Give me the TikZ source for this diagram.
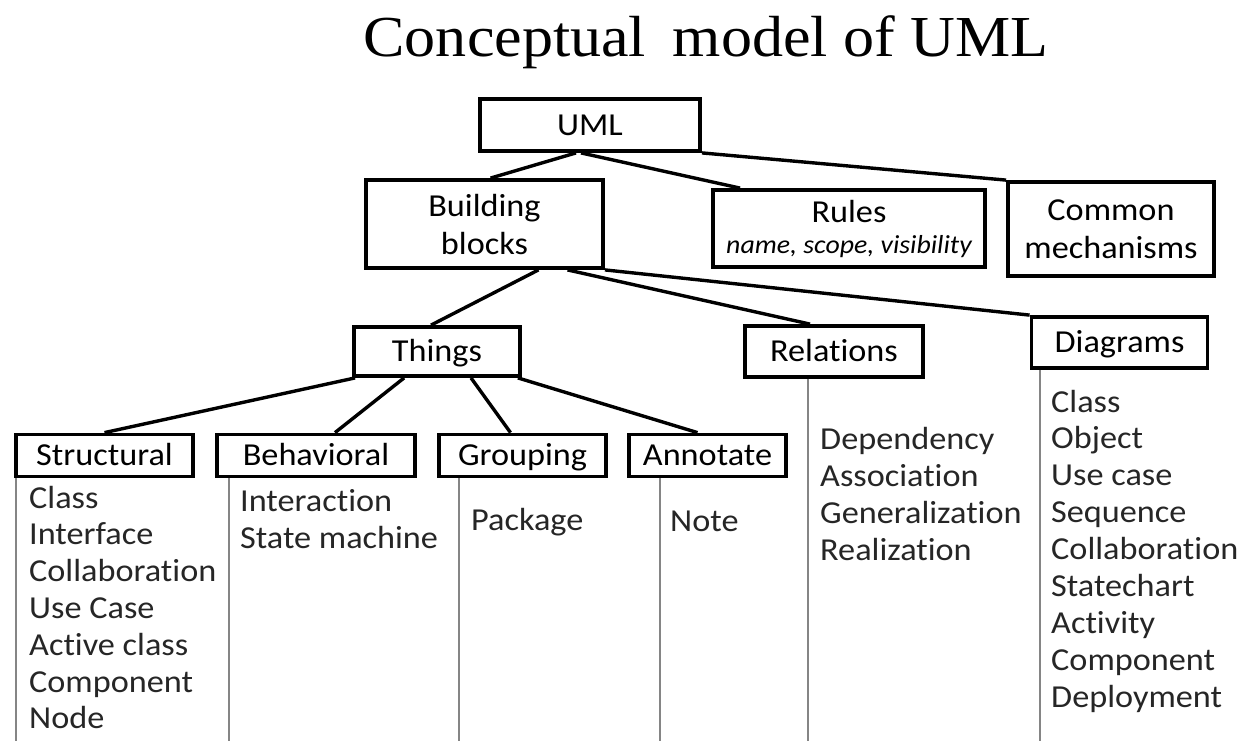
\documentclass[tikz,border=0pt]{standalone}
\usepackage{fontspec}
\setmainfont{Carlito}[FakeStretch=1.07,Ligatures=NoCommon]
\newfontfamily\titlefont{Liberation Serif}[FakeStretch=1.07]
\usetikzlibrary{calc}

\begin{document}
\begin{tikzpicture}[x=1pt,y=-1pt,
  frame/.style={draw=black,line width=3.8pt,rectangle,inner sep=0pt,align=center,
    font=\fontsize{32}{38}\selectfont},
  box/.style={frame,text height=20.5pt,text depth=0pt},
  link/.style={draw=black,line width=3.4pt},
  stem/.style={draw=black!48,line width=2pt},
  item/.style={anchor=base west,inner sep=0pt,font=\fontsize{32}{37}\selectfont,text=black!85}]

% page
\fill[white] (0,0) rectangle (1253,740);
\useasboundingbox (0,0) rectangle (1253,740);
\coordinate (floor) at (0,742);

% heading
\node[anchor=base,inner sep=0pt,font=\titlefont\fontsize{58}{66}\selectfont]
  (heading) at (706,56) {Conceptual\hspace{11pt} model of UML};

% top level
\node[box,minimum width=220,minimum height=52] (uml) at (590,125) {UML};
\node[frame,minimum width=237,minimum height=88] (blocks) at (484.5,224) {Building\\blocks};
\node[frame,minimum width=272,minimum height=77] (rules) at (849,228.5)
  {Rules\\[-7pt]{\itshape\fontsize{26}{30}\selectfont name, scope, visibility}};
\node[frame,minimum width=206,minimum height=94] (common) at (1111,229) {Common\\mechanisms};

% second level
\node[box,minimum width=166,minimum height=49] (things) at (437,351.5) {Things};
\node[box,minimum width=178,minimum height=51] (relations) at (834,351.5) {Relations};
\node[box,minimum width=176,minimum height=51] (diagrams) at (1119.5,342.5) {Diagrams};

% kinds of things
\node[box,minimum width=177,minimum height=42] (structural) at (104.5,455.5) {Structural};
\node[box,minimum width=198,minimum height=42] (behavioral) at (316,455.5) {Behavioral};
\node[box,minimum width=167,minimum height=42] (grouping) at (522.5,455.5) {Grouping};
\node[box,minimum width=157,minimum height=42] (annotate) at (707.5,455.5) {Annotate};

% tree connectors
\draw[link] ([xshift=-14]uml.south) -- ([xshift=6]blocks.north);
\draw[link] ([xshift=-9]uml.south) -- ([xshift=29]rules.north west);
\draw[link] (uml.south east) -- (common.north west);
\draw[link] ([xshift=54]blocks.south) -- ([xshift=-6]things.north);
\draw[link] ([xshift=83]blocks.south) -- ([xshift=-24]relations.north);
\draw[link] (blocks.south east) -- (diagrams.north west);
\draw[link] ([xshift=3]things.south west) -- (structural.north);
\draw[link] ([xshift=52]things.south west) -- ([xshift=19]behavioral.north);
\draw[link] ([xshift=34]things.south) -- ([xshift=-12]grouping.north);
\draw[link] ([xshift=-4]things.south east) -- ([xshift=-10]annotate.north);

% vertical guide lines under the boxes
\draw[stem] ([xshift=1.5]structural.south west) -- ([xshift=1.5]structural.south west |- floor);
\draw[stem] ([xshift=14]behavioral.south west) -- ([xshift=14]behavioral.south west |- floor);
\draw[stem] ([xshift=22]grouping.south west) -- ([xshift=22]grouping.south west |- floor);
\draw[stem] ([xshift=33]annotate.south west) -- ([xshift=33]annotate.south west |- floor);
\draw[stem] ([xshift=65]relations.south west) -- ([xshift=65]relations.south west |- floor);
\draw[stem] ([xshift=10]diagrams.south west) -- ([xshift=10]diagrams.south west |- floor);

% member lists
\foreach \t [count=\i from 0] in {Class,Interface,Collaboration,Use Case,Active class,Component,Node}
  \node[item] (st\i) at (29,508+36.8*\i) {\t};
\foreach \t [count=\i from 0] in {Interaction,State machine}
  \node[item] (be\i) at (240,511+37*\i) {\t};
\node[item] (pk) at (471,530) {Package};
\node[item] (nt) at (670,531) {Note};
\foreach \t [count=\i from 0] in {Dependency,Association,Generalization,Realization}
  \node[item] (re\i) at (820,449+37*\i) {\t};
\foreach \t [count=\i from 0] in {Class,Object,Use case,Sequence,Collaboration,Statechart,Activity,Component,Deployment}
  \node[item] (dg\i) at (1051,412+36.9*\i) {\t};
\end{tikzpicture}
\end{document}
